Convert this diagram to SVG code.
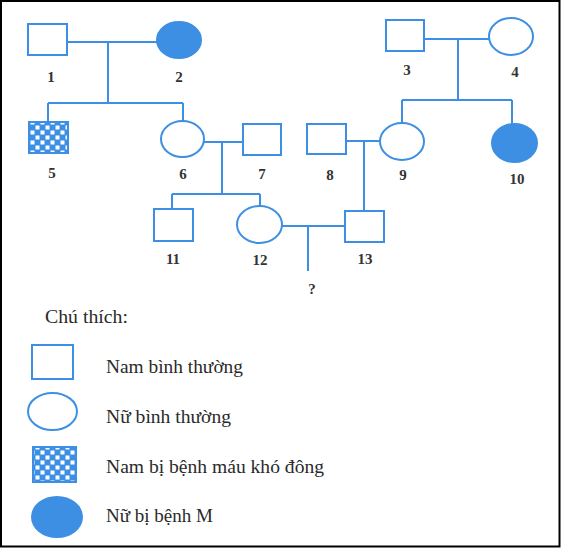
<svg xmlns="http://www.w3.org/2000/svg" width="561" height="548" viewBox="0 0 561 548">
<style>
.ln{stroke:#3d8fe3;stroke-width:2;fill:none}
.m{fill:#fff;stroke:#3d8fe3;stroke-width:2}
.f{fill:#fff;stroke:#3d8fe3;stroke-width:2}
.fa{fill:#3d8fe3;stroke:#3d8fe3;stroke-width:2}
.ma{fill:url(#chk);stroke:#3d8fe3;stroke-width:2}
.n{font-family:"Liberation Serif",serif;font-weight:bold;font-size:15px;fill:#333;text-anchor:middle}
.t{font-family:"Liberation Serif",serif;font-size:18px;fill:#2a2a2a}
</style>
<defs>
<pattern id="chk" x="0" y="0" width="10" height="10" patternUnits="userSpaceOnUse">
<rect width="10" height="10" fill="#3d8fe3"/>
<rect x="0.5" y="0.5" width="4" height="4" fill="#fff"/>
<rect x="5.5" y="5.5" width="4" height="4" fill="#fff"/>
</pattern>
</defs>
<rect x="0" y="0" width="561" height="548" fill="#fff"/>
<rect x="1" y="1" width="558.5" height="545.5" fill="none" stroke="#000" stroke-width="2"/>
<g id="connectors">
<path class="ln" d="M67 42H157M108 42V103M48 103H183M48 103V122M183 103V121"/>
<path class="ln" d="M424 39H489M458 39V100M402 100H512M402 100V123M512 100V124"/>
<path class="ln" d="M204 142H243M222 142V194M172 194H260M172 194V209M260 194V206"/>
<path class="ln" d="M346 141H380M364 141V211"/>
<path class="ln" d="M282 226H345M308 226V271"/>
</g>
<g id="n1"><rect class="m" x="28" y="24" width="39" height="31"/><text class="n" x="51" y="82">1</text></g>
<g id="n2"><ellipse class="fa" cx="179" cy="40" rx="22" ry="18"/><text class="n" x="179" y="82">2</text></g>
<g id="n3"><rect class="m" x="386" y="20" width="38" height="31"/><text class="n" x="407" y="75">3</text></g>
<g id="n4"><ellipse class="f" cx="511" cy="36.5" rx="22" ry="18.5"/><text class="n" x="515" y="77">4</text></g>
<g id="n5"><rect class="ma" x="29" y="122" width="39" height="31"/><text class="n" x="52" y="178">5</text></g>
<g id="n6"><ellipse class="f" cx="182.5" cy="139" rx="21.5" ry="18"/><text class="n" x="183" y="179">6</text></g>
<g id="n7"><rect class="m" x="243" y="124" width="38" height="31"/><text class="n" x="262" y="179">7</text></g>
<g id="n8"><rect class="m" x="307" y="124" width="39" height="30"/><text class="n" x="330" y="180">8</text></g>
<g id="n9"><ellipse class="f" cx="402" cy="141.5" rx="22" ry="18.5"/><text class="n" x="403" y="180">9</text></g>
<g id="n10"><ellipse class="fa" cx="514.5" cy="143" rx="22.5" ry="19"/><text class="n" x="517" y="184">10</text></g>
<g id="n11"><rect class="m" x="154" y="209" width="39" height="32"/><text class="n" x="173" y="264">11</text></g>
<g id="n12"><ellipse class="f" cx="259.5" cy="224.5" rx="22.5" ry="18.5"/><text class="n" x="260" y="265">12</text></g>
<g id="n13"><rect class="m" x="345" y="211" width="39" height="31"/><text class="n" x="365" y="264">13</text></g>
<g id="q"><text class="n" x="312" y="294">?</text></g>
<g id="legend">
<text class="t" x="45" y="323" textLength="83" lengthAdjust="spacingAndGlyphs">Chú thích:</text>
<rect class="m" x="32" y="345" width="41" height="34"/>
<text class="t" x="106" y="373" textLength="137" lengthAdjust="spacingAndGlyphs">Nam bình thường</text>
<ellipse class="f" cx="52.5" cy="411.5" rx="24.5" ry="18.5"/>
<text class="t" x="106" y="423" textLength="125" lengthAdjust="spacingAndGlyphs">Nữ bình thường</text>
<rect class="ma" x="33" y="447" width="43" height="35"/>
<text class="t" x="106" y="473" textLength="218" lengthAdjust="spacingAndGlyphs">Nam bị bệnh máu khó đông</text>
<ellipse class="fa" cx="57" cy="517" rx="25" ry="20"/>
<text class="t" x="106" y="522" textLength="107" lengthAdjust="spacingAndGlyphs">Nữ bị bệnh M</text>
</g>
</svg>
